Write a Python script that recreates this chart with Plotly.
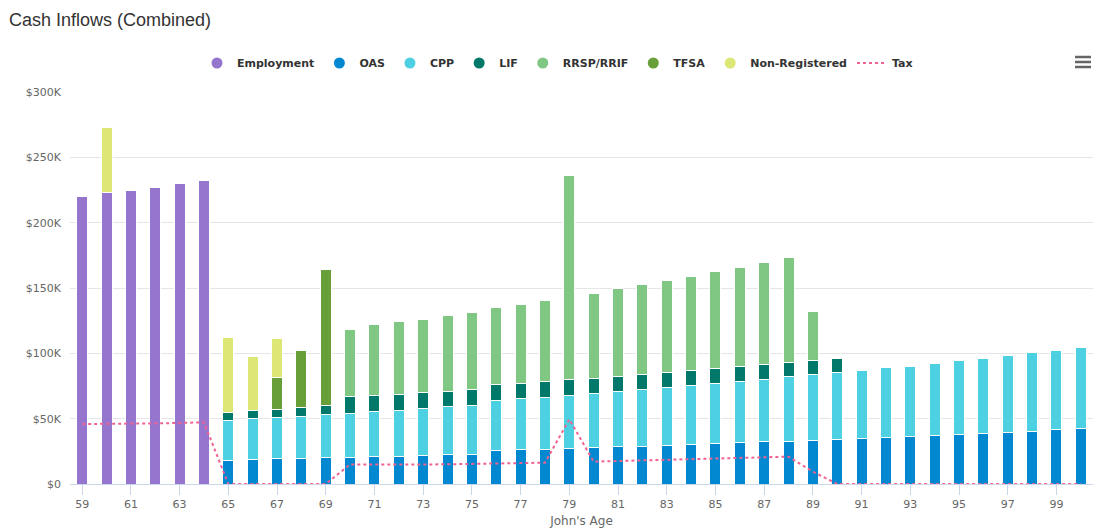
import plotly.graph_objects as go

ages = list(range(59, 101))
N = None

# values in thousands of dollars, one entry per age 59..100
employment = [220, 223, 225, 227, 230, 232.6] + [N] * 36
oas = [N] * 6 + [18.0, 18.6, 19.4, 19.4, 20.1, 20.1, 21.2, 21.2, 22.0, 22.7, 22.7, 25.5, 26.2, 26.2,
                 27.0, 27.8, 28.5, 28.5, 29.3, 30.1, 30.8, 31.6, 32.4, 32.4, 33.1, 33.9, 34.7, 35.4,
                 36.2, 37.0, 37.7, 38.5, 39.3, 40.0, 41.6, 42.3]
cpp = [N] * 6 + [30.5, 31.4, 31.3, 32.1, 32.9, 33.7, 34.1, 34.9, 35.6, 36.4, 37.2, 38.2, 39.1, 39.8,
                 40.6, 41.3, 42.1, 43.6, 44.4, 45.1, 45.9, 46.7, 47.4, 49.7, 50.5, 51.3, 52.5, 53.4,
                 54.1, 55.6, 57.2, 57.9, 59.4, 61.0, 60.9, 62.5]
lif = [N] * 6 + [6.0, 6.1, 6.2, 7.2, 7.2, 13.3, 12.3, 12.2, 12.3, 11.5, 12.2, 12.3, 11.4, 12.3,
                 12.2, 11.5, 11.5, 11.5, 11.5, 11.5, 11.5, 11.5, 11.5, 11.2, 10.7, 10.7] + [N] * 10
rrsp = [N] * 11 + [51.5, 54.8, 55.7, 56.3, 58.7, 59.5, 58.7, 61.0, 62.5, 156.6, 65.5, 67.9, 69.4,
                   70.9, 72.4, 74.8, 76.2, 78.6, 80.4, 38.1] + [N] * 11
tfsa = [N] * 8 + [24.7, 43.1, 104.3] + [N] * 31
nonreg = [N, 50.0] + [N] * 4 + [58.0, 41.8, 30.1] + [N] * 33
tax = [45.9, 45.9, 46.1, 46.4, 46.7, 47.2, 0, 0, 0, 0, 0, 15.0, 14.8, 14.6, 14.9, 15.1, 15.3, 15.6,
       16.1, 16.3, 49.5, 17.1, 17.6, 18.1, 18.4, 19.0, 19.5, 20.0, 20.5, 20.9, 9.4] + [0] * 11

series_names = ["Employment", "OAS", "CPP", "LIF", "RRSP/RRIF", "TFSA", "Non-Registered"]
series_values = [employment, oas, cpp, lif, rrsp, tfsa, nonreg]
colors = ["#9575cd", "#0288d1", "#4dd0e1", "#00796b", "#81c784", "#689f38", "#dce775"]
tax_color = "#f06292"

y_tickvals = [0, 50, 100, 150, 200, 250, 300]
y_ticktext = ["$0", "$50K", "$100K", "$150K", "$200K", "$250K", "$300K"]
x_tickvals = list(range(59, 100, 2))

fig = go.Figure()
for name, vals, col in zip(series_names, series_values, colors):
    fig.add_trace(go.Bar(x=ages, y=vals, name=name, marker=dict(color=col, line=dict(color="white", width=1)),
                         legendgroup=name, showlegend=False))
    fig.add_trace(go.Scatter(x=[None], y=[None], mode="markers", name=name, legendgroup=name,
                             marker=dict(color=col, size=11, symbol="circle")))

fig.add_trace(go.Scatter(x=ages, y=tax, mode="lines", name="Tax",
                         line=dict(color=tax_color, width=2, dash="dot")))

fig.update_layout(
    width=1115, height=531,
    barmode="stack", bargap=0.55,
    plot_bgcolor="white", paper_bgcolor="white",
    margin=dict(l=70, r=22, t=92, b=47),
    font=dict(family="DejaVu Sans", size=11, color="#666666"),
    title=dict(text="Cash Inflows (Combined)", xref="container", yref="container",
               x=9 / 1115, xanchor="left", y=1 - 20 / 531, yanchor="middle",
               font=dict(family="Liberation Sans", size=18, color="#333333")),
    legend=dict(orientation="h", xref="container", yref="container", x=0.5, xanchor="center",
                y=1 - 63 / 531, yanchor="middle", font=dict(family="DejaVu Sans", size=11, color="#333333",
                                                          weight="bold"),
                itemwidth=30, tracegroupgap=0),
    xaxis=dict(range=[58.5, 100.5], tickvals=x_tickvals, showgrid=False, showline=True,
               linecolor="#ccd6eb", linewidth=1, ticks="outside", tickcolor="#ccd6eb", ticklen=10,
               tickfont=dict(size=11, color="#666666"), zeroline=False, automargin=False,
               title=dict(text="John's Age", font=dict(size=12, color="#666666"), standoff=6)),
    yaxis=dict(range=[0, 300], tickvals=y_tickvals, ticktext=y_ticktext, showgrid=True,
               gridcolor="#e6e6e6", gridwidth=1, zeroline=False, showline=False, automargin=False,
               tickfont=dict(size=11, color="#666666"), ticks="", ticklabelstandoff=8),
    shapes=[dict(type="line", xref="paper", yref="paper", x0=(1075 - 70) / 1023, x1=(1091 - 70) / 1023,
                 y0=(484 - py) / 392, y1=(484 - py) / 392, line=dict(color="#666666", width=2.5))
            for py in (57, 62, 67)],
)

fig.write_html("out.html", config={"displayModeBar": False},
               post_script="document.body.style.margin='0';document.body.style.padding='0';")
